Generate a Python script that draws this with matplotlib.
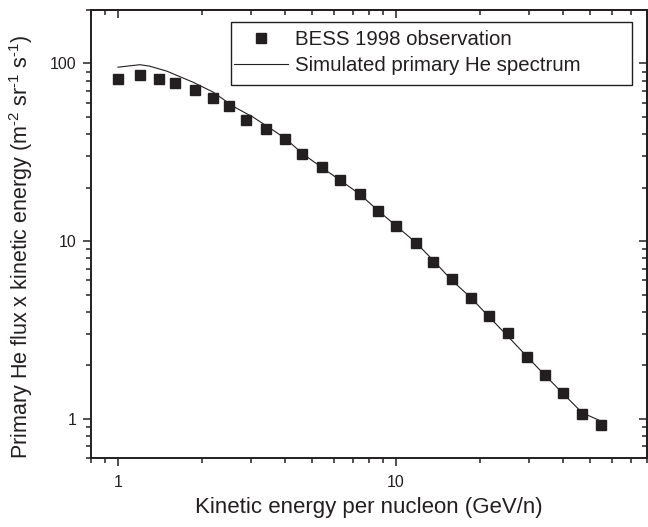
import matplotlib
matplotlib.use("Agg")
import matplotlib.pyplot as plt
from matplotlib import ticker
from matplotlib.patches import Rectangle

plt.rcParams['font.family'] = ['Liberation Sans', 'DejaVu Sans']
plt.rcParams['mathtext.fontset'] = 'custom'
plt.rcParams['mathtext.rm'] = 'Liberation Sans'

# BESS 1998 observation (GeV/n, flux x energy)
bess_energy = [1.0, 1.2, 1.4, 1.6, 1.9, 2.2, 2.5, 2.9, 3.4, 4.0, 4.6, 5.4, 6.3, 7.4,
               8.6, 10.0, 11.8, 13.6, 15.9, 18.6, 21.6, 25.2, 29.5, 34.4, 40.0, 46.7, 54.5]
bess_flux = [82.0, 86.4, 81.6, 77.9, 71.2, 64.2, 57.3, 48.0, 42.6, 37.4, 30.8, 26.1, 22.0, 18.5,
             14.8, 12.2, 9.8, 7.6, 6.09, 4.80, 3.78, 3.05, 2.23, 1.76, 1.39, 1.06, 0.917]

# simulated primary He spectrum
sim_energy = [1.0, 1.2, 1.3, 1.5, 1.86, 2.2, 2.6, 3.06, 3.7, 4.0, 4.6, 5.4, 6.3, 7.4, 8.6,
              10.0, 11.8, 13.6, 15.9, 18.6, 21.6, 25.2, 29.5, 34.4, 40.0, 46.7, 54.5]
sim_flux = [95.3, 98.4, 96.6, 90.5, 78.5, 69.0, 57.3, 49.9, 41.1, 37.8, 31.2, 26.0, 22.0, 18.4, 14.9,
            12.2, 9.8, 7.8, 6.0, 4.8, 3.75, 2.92, 2.25, 1.75, 1.38, 1.08, 0.97]

xticks = [1, 10]
yticks = [1, 10, 100]

ink = '#231f20'

fig = plt.figure(figsize=(6.48, 5.27), dpi=100)
ax = fig.add_axes([0.1404, 0.1309, 0.8581, 0.8501])

ax.plot(bess_energy, bess_flux, 's', color=ink, markersize=6.7, label='BESS 1998 observation')
ax.plot(sim_energy, sim_flux, '-', color=ink, linewidth=0.8, label='Simulated primary He spectrum')

ax.set_xscale('log')
ax.set_yscale('log')
ax.set_xlim(0.8, 80)
ax.set_ylim(0.6, 200)

fmt = ticker.FuncFormatter(lambda v, _: f'{v:g}')
ax.xaxis.set_major_locator(ticker.FixedLocator(xticks))
ax.yaxis.set_major_locator(ticker.FixedLocator(yticks))
ax.xaxis.set_major_formatter(fmt)
ax.yaxis.set_major_formatter(fmt)
ax.xaxis.set_minor_formatter(ticker.NullFormatter())
ax.yaxis.set_minor_formatter(ticker.NullFormatter())

for s in ax.spines.values():
    s.set_linewidth(1.4)
    s.set_color(ink)

ax.tick_params(which='both', direction='out', top=False, right=False, width=1.1,
               color=ink, labelcolor=ink, labelsize=11.5)
ax.tick_params(which='major', length=6)
ax.tick_params(which='minor', length=3.4)
ax.tick_params(axis='x', pad=6)
ax.tick_params(axis='y', pad=4.5)

# mirrored ticks on top and right point inward
top = ax.secondary_xaxis('top')
right = ax.secondary_yaxis('right')
for sec, axis in [(top, top.xaxis), (right, right.yaxis)]:
    axis.set_major_locator(ticker.FixedLocator(xticks if sec is top else yticks))
    axis.set_major_formatter(ticker.NullFormatter())
    axis.set_minor_formatter(ticker.NullFormatter())
    sec.tick_params(which='both', direction='in', width=1.1, color=ink)
    sec.tick_params(which='major', length=6)
    sec.tick_params(which='minor', length=3.4)
    for s in sec.spines.values():
        s.set_linewidth(1.4)
        s.set_color(ink)

ax.set_xlabel('Kinetic energy per nucleon (GeV/n)', fontsize=16, color=ink, labelpad=5.5)
ax.set_ylabel(r'Primary He flux x kinetic energy (m$^{\text{-2}}$ sr$^{\text{-1}}$ s$^{\text{-1}}$)',
              fontsize=15.5, color=ink)
ax.yaxis.set_label_coords(-0.101, 0.471)

# legend box (Origin style, wider than its content)
ax.add_patch(Rectangle((0.2518, 0.8326), 0.7212, 0.1399, transform=ax.transAxes,
                       facecolor='white', edgecolor=ink, linewidth=1.0, zorder=4))
leg = ax.legend(loc='upper left', bbox_to_anchor=(0.2577, 0.9555), fontsize=14.7,
                frameon=False, handlelength=2.65, handletextpad=0.33, borderpad=0,
                labelspacing=0.34, borderaxespad=0)
leg.set_zorder(5)
for t in leg.get_texts():
    t.set_color(ink)

plt.savefig('out.png', dpi=100)
